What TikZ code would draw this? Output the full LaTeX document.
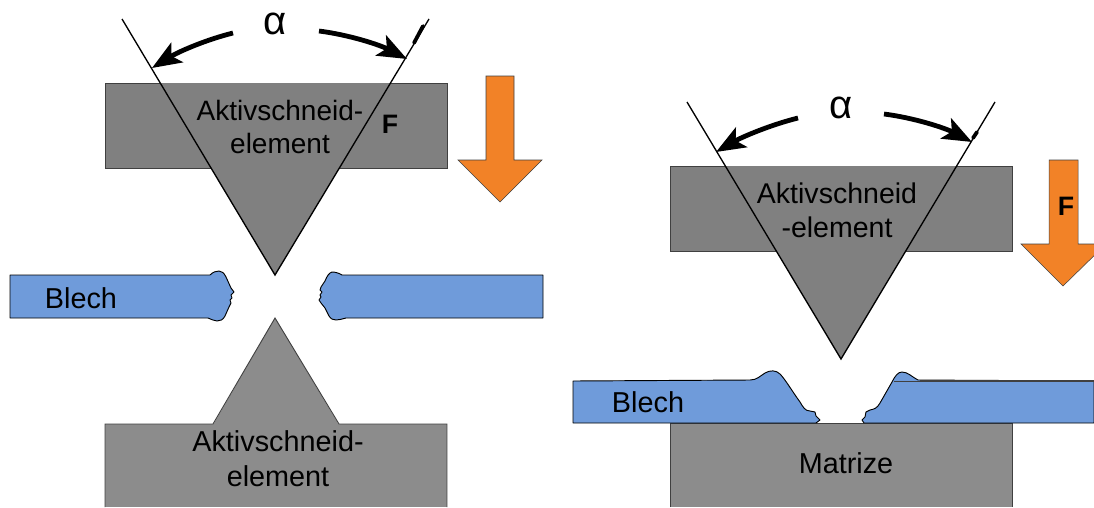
\documentclass[tikz,border=0pt]{standalone}
\usepackage{fontspec}
\setmainfont{Liberation Sans}
\usetikzlibrary{arrows.meta}
\definecolor{toolgray}{HTML}{808080}
\definecolor{lowgray}{HTML}{8C8C8C}
\definecolor{sheet}{HTML}{6F9BDA}
\definecolor{force}{HTML}{F28227}
\definecolor{edge}{HTML}{404040}
\tikzset{
  toolbody/.style={fill=toolgray,draw=edge,line width=0.7pt},
  toolwedge/.style={fill=toolgray},
  vline/.style={draw=black,line width=1pt},
  sheetpart/.style={fill=sheet,draw=black,line width=0.7pt,line join=round},
  forcearrow/.style={fill=force,draw=edge,line width=0.4pt},
  anglearrow/.style={draw=black,line width=3.6pt,-{Stealth[length=22pt,width=17pt,inset=5pt]}},
  tick/.style={draw=black,line width=2.8pt,line cap=round},
  lbl/.style={font=\fontsize{21.4}{25.2}\selectfont,align=center,inner sep=0pt},
  sheetlbl/.style={font=\fontsize{21.6}{24}\selectfont,inner sep=0pt},
  greek/.style={font=\fontsize{30}{34}\selectfont,inner sep=0pt},
  flbl/.style={font=\fontsize{20}{24}\selectfont\bfseries,inner sep=0pt}
}
\begin{document}
\begin{tikzpicture}[x=0.75pt,y=-0.75pt]
\useasboundingbox (0,0) rectangle (1094,507);
\clip (0,0) rectangle (1094,507);
% left upper tool
\coordinate (lA) at (122,19);
\coordinate (lB) at (429,19);
\coordinate (lT) at (275,275);
\draw[toolbody] (105,83) rectangle (447,168);
\fill[toolwedge] (160,83) -- (391,83) -- (lT) -- cycle;
\draw[vline] (lA) -- (lT) -- (lB);
% left lower tool
\fill[lowgray] (105,424) rectangle (447,507);
\fill[lowgray] (213,425) -- (275,318) -- (339,425) -- cycle;
\draw[edge,line width=0.7pt] (105,507) -- (105,424) -- (213,424) -- (275,318) -- (339,424) -- (447,424) -- (447,507);
% left sheet
\draw[sheetpart] (10,275) -- (210,275) .. controls (213,272) and (216,271) .. (219,271)
 .. controls (222,271) and (224,273) .. (226,277) -- (231,288) -- (234,292) -- (231,295) -- (232,298) -- (230,300) -- (231,303) -- (229,307)
 -- (225,316) .. controls (223,320) and (220,321) .. (217,321) .. controls (214,321) and (211,319) .. (208,318) -- (10,318) -- cycle;
\draw[sheetpart] (543,275) -- (342,275) .. controls (339,273) and (335,272) .. (332,272)
 .. controls (329,273) and (327,276) .. (325,281) -- (321,287) -- (320,290) -- (322,292) -- (320,295) -- (321,297) -- (319,300) -- (321,303)
 -- (325,308) -- (329,316) .. controls (331,319) and (333,320) .. (336,320) .. controls (339,320) and (342,319) .. (346,318) -- (543,318) -- cycle;
% left arrow
\draw[forcearrow] (486,76) -- (514,76) -- (514,160) -- (542,160) -- (500,202) -- (458,160) -- (486,160) -- cycle;
% right upper tool
\coordinate (rA) at (687,102);
\coordinate (rB) at (995,102);
\coordinate (rT) at (841,359);
\draw[toolbody] (670,166) rectangle (1012,251);
\fill[toolwedge] (725,166) -- (957,166) -- (rT) -- cycle;
\draw[vline] (rA) -- (rT) -- (rB);
% right lower: die
\fill[lowgray] (670,423) rectangle (1012,507);
\draw[edge,line width=0.7pt] (670,507) -- (670,423) -- (1012,423) -- (1012,507);
% right sheet
\draw[sheetpart] (573,381) -- (750,380) .. controls (757,380) and (760,376) .. (765,373)
 .. controls (770,370) and (776,370) .. (780,374) .. controls (785,379) and (792,391) .. (800,402)
 .. controls (803,407) and (805,411) .. (810,411) -- (815,412) -- (816,416) -- (820,420) -- (816,423) -- (573,423) -- cycle;
\draw[sheetpart] (1094,381) -- (918,380) .. controls (912,377) and (908,372) .. (902,372)
 .. controls (898,372) and (895,376) .. (892,382) -- (880,403) .. controls (877,408) and (875,409) .. (870,410)
 -- (866,412) -- (865,417) -- (862,420) -- (864,423) -- (1094,423) -- cycle;
\draw[edge,line width=0.4pt] (894,381) -- (920,381);
\draw[edge,line width=1.2pt] (920,381) -- (1094,381);
% right arrow
\draw[forcearrow] (1049,160) -- (1078,160) -- (1078,244) -- (1106,244) -- (1063,286) -- (1021,244) -- (1049,244) -- cycle;
% angle arrows
\coordinate (a1s) at (233,33); \coordinate (a1e) at (152,68);
\coordinate (a2s) at (319,31); \coordinate (a2e) at (407,59);
\coordinate (a3s) at (798,118); \coordinate (a3e) at (716,152);
\coordinate (a4s) at (884,114); \coordinate (a4e) at (972,142);
\coordinate (t1s) at (414,43); \coordinate (t1e) at (423,26);
\coordinate (t2s) at (973,138); \coordinate (t2e) at (977,132);
\draw[anglearrow] (a1s) .. controls (205,40) and (178,52) .. (a1e);
\draw[anglearrow] (a2s) .. controls (350,35) and (380,45) .. (a2e);
\draw[anglearrow] (a3s) .. controls (770,125) and (742,137) .. (a3e);
\draw[anglearrow] (a4s) .. controls (915,118) and (945,128) .. (a4e);
\draw[tick] (t1s) -- (t1e);
\draw[tick] (t2s) -- (t2e);
% labels
\node[greek] (alphaL) at (275,24) {α};
\node[greek] (alphaR) at (841,108) {α};
\node[lbl,font=\fontsize{21}{25.2}\selectfont] (toolL) at (280,127) {Aktivschneid-\\element};
\node[lbl] (toolR) at (837,210) {Aktivschneid\\-element};
\node[lbl,font=\fontsize{21.6}{26}\selectfont] (lowL) at (278,459) {Aktivschneid-\\element};
\node[lbl,font=\fontsize{21.6}{26}\selectfont] (die) at (846,463) {Matrize};
\node[sheetlbl] (blechL) at (81,298) {Blech};
\node[sheetlbl] (blechR) at (648,402) {Blech};
\node[flbl] (fL) at (390,124) {F};
\node[flbl] (fR) at (1066,206) {F};
\end{tikzpicture}
\end{document}
